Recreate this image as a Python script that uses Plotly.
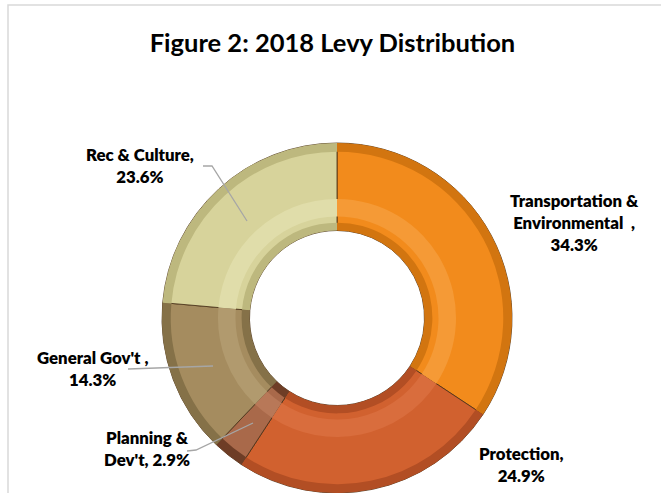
import plotly.graph_objects as go

# Levy share by service area (percent of total)
categories = ["Transportation & Environmental", "Protection", "Planning & Dev't",
              "General Gov't", "Rec & Culture"]
shares = [34.3, 24.9, 2.9, 14.3, 23.6]

base_colors = ["#F28B1C", "#D1612F", "#A9694A", "#A58C5F", "#D7D39B"]
rim_colors = ["#D27510", "#B24E24", "#6E3D26", "#857148", "#BDB87E"]
light_colors = ["#F59A36", "#D96D3D", "#B87858", "#B19A6E", "#E0DDAA"]

W, H = 661, 493
cx, cy, R = 337, 318, 175   # donut centre and outer radius, in pixels
HOLE = 0.50


def domain(radius):
    return dict(x=[(cx - radius) / W, (cx + radius) / W],
                y=[(H - cy - radius) / H, (H - cy + radius) / H])


def ring(r_out, r_in, colors, line_w=0.0, line_col="rgba(0,0,0,0)"):
    return go.Pie(values=shares, labels=categories, sort=False, direction="clockwise",
                  rotation=0, hole=r_in / r_out, domain=domain(R * r_out),
                  marker=dict(colors=colors, line=dict(color=line_col, width=line_w)),
                  textinfo="none", hoverinfo="skip", showlegend=False)


fig = go.Figure()
# main body of the ring
fig.add_trace(ring(1.0, HOLE, base_colors, 1.0, "rgba(70,45,20,0.8)"))
# shaded outer bevel
fig.add_trace(ring(1.0, 0.95, rim_colors))
# soft highlight on the inner half of the top face
fig.add_trace(ring(0.68, 0.58, light_colors))
# shaded inner bevel around the hole
fig.add_trace(ring(0.545, HOLE, rim_colors))

# data labels: (text, x, y) in pixels
labels = [
    ("Transportation &<br>Environmental  ,<br>34.3%", 574, 222),
    ("Protection,<br>24.9%", 521, 464),
    ("Planning &<br>Dev't, 2.9%", 147, 448),
    ("General Gov't ,<br>14.3%", 92, 368),
    ("Rec & Culture,<br>23.6%", 140, 166),
]
for text, x, y in labels:
    fig.add_annotation(text=text, x=x / W, y=1 - y / H, xref="paper", yref="paper",
                       xanchor="center", yanchor="middle",
                       showarrow=False, align="center",
                       font=dict(family="Lato", size=16.8, color="#000000", weight=800))

# leader lines
leaders = [
    [(203, 166), (212, 166), (247, 221)],
    [(128, 369), (213, 366)],
    [(187, 451), (196, 450), (253, 423)],
]
for pts in leaders:
    path = "M " + " L ".join(f"{x / W},{1 - y / H}" for x, y in pts)
    fig.add_shape(type="path", path=path, xref="paper", yref="paper",
                  line=dict(color="#A6A6A6", width=1.3))

# chart frame
fig.add_shape(type="path", xref="paper", yref="paper",
              path=f"M {8 / W},0 L {8 / W},{1 - 5 / H} L 1,{1 - 5 / H}",
              line=dict(color="#D9D9D9", width=1.5))

fig.update_layout(
    width=W, height=H, margin=dict(l=0, r=0, t=0, b=0),
    paper_bgcolor="white", plot_bgcolor="white",
    title=dict(text="<b>Figure 2: 2018 Levy Distribution</b>", x=0.503, y=1 - 43 / H,
               xanchor="center", yanchor="middle",
               font=dict(family="Lato", size=25.5, color="#000000")),
)

fig.write_html("out.html")
